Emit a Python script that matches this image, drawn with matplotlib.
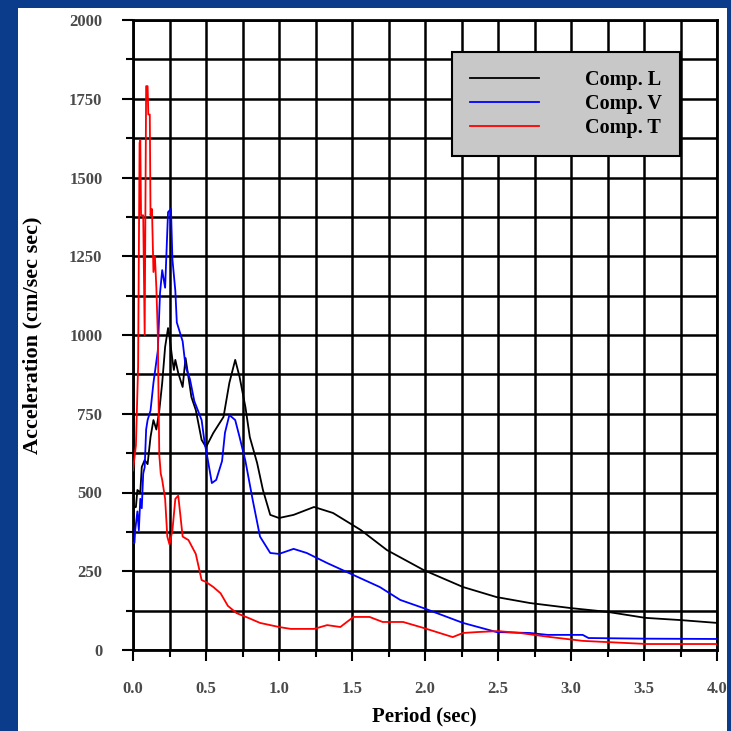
import matplotlib
matplotlib.use("Agg")
import matplotlib.pyplot as plt
from matplotlib.patches import Rectangle
from matplotlib.ticker import MultipleLocator

# Spectral acceleration
period_l = [0.0, 0.02, 0.03, 0.05, 0.06, 0.08, 0.10, 0.12, 0.14, 0.16, 0.18, 0.20,
            0.22, 0.24, 0.25, 0.27, 0.28, 0.29, 0.31, 0.34, 0.36, 0.39, 0.40, 0.43,
            0.47, 0.50, 0.55, 0.62, 0.66, 0.70, 0.73, 0.77, 0.80, 0.85, 0.89, 0.94,
            1.0, 1.1, 1.24, 1.37, 1.56, 1.74, 1.99, 2.26, 2.49, 2.72, 3.0, 3.25,
            3.51, 3.75, 4.0]
accel_l = [451, 454, 508, 500, 581, 603, 590, 676, 730, 700, 760, 848,
           962, 1022, 994, 921, 889, 921, 879, 835, 927, 835, 803, 762,
           667, 644, 689, 740, 848, 921, 867, 771, 676, 594, 508, 429,
           419, 429, 454, 435, 381, 317, 254, 200, 168, 149, 133, 121,
           102, 95, 86]

period_v = [0.0, 0.01, 0.015, 0.03, 0.04, 0.05, 0.06, 0.07, 0.08, 0.09, 0.10, 0.12,
            0.14, 0.17, 0.185, 0.20, 0.22, 0.24, 0.26, 0.27, 0.29, 0.30, 0.34, 0.36,
            0.39, 0.42, 0.47, 0.49, 0.51, 0.54, 0.57, 0.61, 0.63, 0.66, 0.70, 0.73,
            0.77, 0.82, 0.87, 0.94, 1.0, 1.1, 1.19, 1.33, 1.51, 1.69, 1.83, 1.99,
            2.26, 2.49, 2.72, 2.84, 3.08, 3.12, 3.51, 4.0]
accel_v = [340, 340, 380, 440, 380, 480, 450, 560, 580, 700, 730, 760,
           848, 950, 1133, 1206, 1150, 1390, 1400, 1240, 1140, 1040, 980, 900,
           860, 790, 730, 660, 610, 530, 540, 600, 690, 746, 730, 676,
           600, 476, 360, 308, 305, 321, 308, 276, 238, 200, 159, 133,
           86, 57, 54, 48, 48, 38, 36, 35]

period_t = [0.0, 0.02, 0.035, 0.045, 0.05, 0.055, 0.07, 0.08, 0.09, 0.10, 0.105, 0.115,
            0.12, 0.13, 0.14, 0.15, 0.16, 0.17, 0.175, 0.18, 0.19, 0.20, 0.22, 0.235,
            0.25, 0.27, 0.29, 0.31, 0.34, 0.38, 0.43, 0.47, 0.50, 0.55, 0.60, 0.65,
            0.71, 0.80, 0.87, 1.0, 1.08, 1.24, 1.33, 1.42, 1.51, 1.62, 1.71, 1.85,
            1.99, 2.19, 2.26, 2.36, 2.5, 2.65, 2.86, 3.08, 3.52, 4.0]
accel_t = [570, 650, 900, 1610, 1620, 1380, 1380, 1000, 1790, 1790, 1700, 1700,
           1380, 1400, 1200, 1250, 1150, 1000, 800, 620, 560, 540, 480, 360,
           335, 380, 480, 490, 360, 349, 305, 222, 216, 200, 180, 140,
           117, 100, 86, 73, 67, 67, 79, 73, 105, 105, 89, 89,
           70, 41, 54, 57, 60, 54, 41, 29, 19, 19]

series = [("Comp. L", period_l, accel_l, "black"),
          ("Comp. V", period_v, accel_v, "#0000ff"),
          ("Comp. T", period_t, accel_t, "#ff0000")]

W = 731
fig = plt.figure(figsize=(7.31, 7.31), dpi=100)
fig.patch.set_facecolor("#0b3c8c")
fig.patches.append(Rectangle((18 / W, 0), (727 - 18) / W, (W - 8) / W,
                             transform=fig.transFigure, facecolor="white",
                             edgecolor="none", zorder=-10))

ax = fig.add_axes([133 / W, 1 - 650 / W, (717 - 133) / W, (650 - 20) / W])
ax.set_facecolor("white")

for name, x, y, c in series:
    ax.plot(x, y, color=c, lw=1.3, label=name, zorder=3)

ax.set_xlim(0, 4.0)
ax.set_ylim(0, 2000)
ax.xaxis.set_major_locator(MultipleLocator(0.5))
ax.xaxis.set_minor_locator(MultipleLocator(0.25))
ax.yaxis.set_major_locator(MultipleLocator(250))
ax.yaxis.set_minor_locator(MultipleLocator(125))
ax.set_xticks(ax.get_xticks())
ax.set_xticklabels([f"{v:.1f}" for v in ax.get_xticks()])
ax.set_xlim(0, 4.0)
ax.grid(which="both", color="black", lw=1.8, zorder=1)
ax.set_axisbelow(True)
for s in ax.spines.values():
    s.set_linewidth(2)

ax.tick_params(which="major", length=8, width=1.5, pad=14)
ax.tick_params(which="minor", length=5, width=1.5)
for lab in ax.get_xticklabels() + ax.get_yticklabels():
    lab.set_fontfamily("Liberation Serif")
    lab.set_fontsize(12)
    lab.set_fontweight("bold")
    lab.set_color("#4a4a4a")

ax.set_xlabel("Period (sec)", family="Liberation Serif", weight="bold", size=15)
ax.set_ylabel("Acceleration (cm/sec sec)", family="Liberation Serif", weight="bold", size=16)
ax.xaxis.label.set_va("center")
ax.yaxis.label.set_va("center")
ax.xaxis.set_label_coords((424 - 133) / 584, (650 - 716) / 630)
ax.yaxis.set_label_coords((32 - 133) / 584, 0.5)

leg = ax.legend(loc="upper right", bbox_to_anchor=((680 - 133) / 584, (650 - 52) / 630),
                borderaxespad=0, fancybox=False, framealpha=1, facecolor="#c8c8c8",
                edgecolor="black", handlelength=3.4, handletextpad=2.3,
                borderpad=0.9, labelspacing=0.2,
                prop=dict(family="Liberation Serif", weight="bold", size=14.5))
leg.get_frame().set_linewidth(1.5)
leg.set_zorder(5)

fig.savefig("out.png", dpi=100, facecolor=fig.get_facecolor())
